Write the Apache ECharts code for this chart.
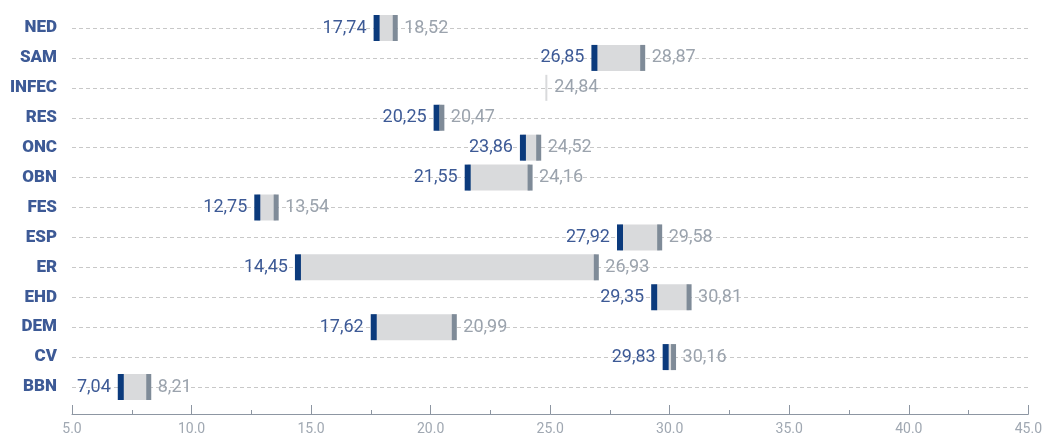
<!DOCTYPE html>
<html>
<head>
<meta charset="utf-8">
<script src="https://cdn.jsdelivr.net/npm/echarts@6/dist/echarts.min.js"></script>
<style>
  html, body { margin: 0; padding: 0; background: #fff; }
  #range_chart { width: 1045px; height: 436px; }
</style>
</head>
<body>
<div id="range_chart"></div>
<script>
// categories from top to bottom
var categories = ['NED', 'SAM', 'INFEC', 'RES', 'ONC', 'OBN', 'FES', 'ESP', 'ER', 'EHD', 'DEM', 'CV', 'BBN'];
// start value (blue) and end value (gray); INFEC has no start value
var startValues = [17.74, 26.85, null, 20.25, 23.86, 21.55, 12.75, 27.92, 14.45, 29.35, 17.62, 29.83, 7.04];
var endValues = [18.52, 28.87, 24.84, 20.47, 24.52, 24.16, 13.54, 29.58, 26.93, 30.81, 20.99, 30.16, 8.21];
var axisTicks = [5, 45, 5]; // min, max, interval

function fmt(v) {
    return v.toFixed(2).replace('.', ',');
}

var chart = echarts.init(document.getElementById('range_chart'));

function renderItem(params, api) {
    var i = params.dataIndex;
    var s = startValues[i];
    var e = endValues[i];
    var pe = api.coord([e, i]);
    var h = 26;
    var y = pe[1];
    var children = [];
    if (s == null) {
        // only the end value: thin light line
        children.push({
            type: 'rect',
            shape: { x: pe[0] - 1, y: y - h / 2, width: 2, height: h },
            style: { fill: '#d9dadc' }
        });
        children.push({
            type: 'text',
            style: {
                x: pe[0] + 8, y: y, text: fmt(e), align: 'left', verticalAlign: 'middle',
                fill: '#9ba3ad', font: '18px Roboto'
            }
        });
        return { type: 'group', children: children };
    }
    var ps = api.coord([s, i]);
    children.push({
        type: 'rect',
        shape: { x: ps[0], y: y - h / 2, width: pe[0] - ps[0], height: h },
        style: { fill: '#d9dadc' }
    });
    children.push({
        type: 'rect',
        shape: { x: ps[0] - 3, y: y - h / 2, width: 6, height: h },
        style: { fill: '#0b3a7c' }
    });
    children.push({
        type: 'rect',
        shape: { x: pe[0] - 2.5, y: y - h / 2, width: 5, height: h },
        style: { fill: '#7f8b98' }
    });
    children.push({
        type: 'text',
        style: {
            x: ps[0] - 10, y: y, text: fmt(s), align: 'right', verticalAlign: 'middle',
            fill: '#3d5a96', font: '18px Roboto'
        }
    });
    children.push({
        type: 'text',
        style: {
            x: pe[0] + 9, y: y, text: fmt(e), align: 'left', verticalAlign: 'middle',
            fill: '#9ba3ad', font: '18px Roboto'
        }
    });
    return { type: 'group', children: children };
}

option = {
    animation: false,
    grid: {
        left: 72,
        right: 16,
        top: 28,
        bottom: 49
    },
    xAxis: {
        type: 'value',
        min: axisTicks[0],
        max: axisTicks[1],
        interval: axisTicks[2],
        offset: 27,
        axisLine: { show: true, lineStyle: { color: '#8d96a2', width: 1 } },
        axisTick: { show: true, inside: true, length: 9, lineStyle: { color: '#8d96a2' } },
        minorTick: { show: true, splitNumber: 2, length: 4, lineStyle: { color: '#8d96a2' } },
        splitLine: { show: false },
        axisLabel: {
            color: '#a0a8b2',
            fontSize: 14,
            fontFamily: 'Roboto',
            margin: 8,
            formatter: function (v) { return v.toFixed(1); }
        }
    },
    yAxis: {
        type: 'category',
        inverse: true,
        boundaryGap: false,
        data: categories,
        axisLine: { show: false },
        axisTick: { show: false },
        splitLine: {
            show: true,
            interval: 0,
            lineStyle: { color: '#c8c8c8', type: [4, 3], width: 1 }
        },
        axisLabel: {
            interval: 0,
            margin: 15,
            color: '#3d5a96',
            fontSize: 17,
            fontWeight: 900,
            fontFamily: 'Roboto'
        }
    },
    series: [{
        type: 'custom',
        renderItem: renderItem,
        encode: { x: 0, y: 1 },
        data: endValues.map(function (v, i) { return [v, i]; })
    }]
};
chart.setOption(option);
</script>
</body>
</html>
